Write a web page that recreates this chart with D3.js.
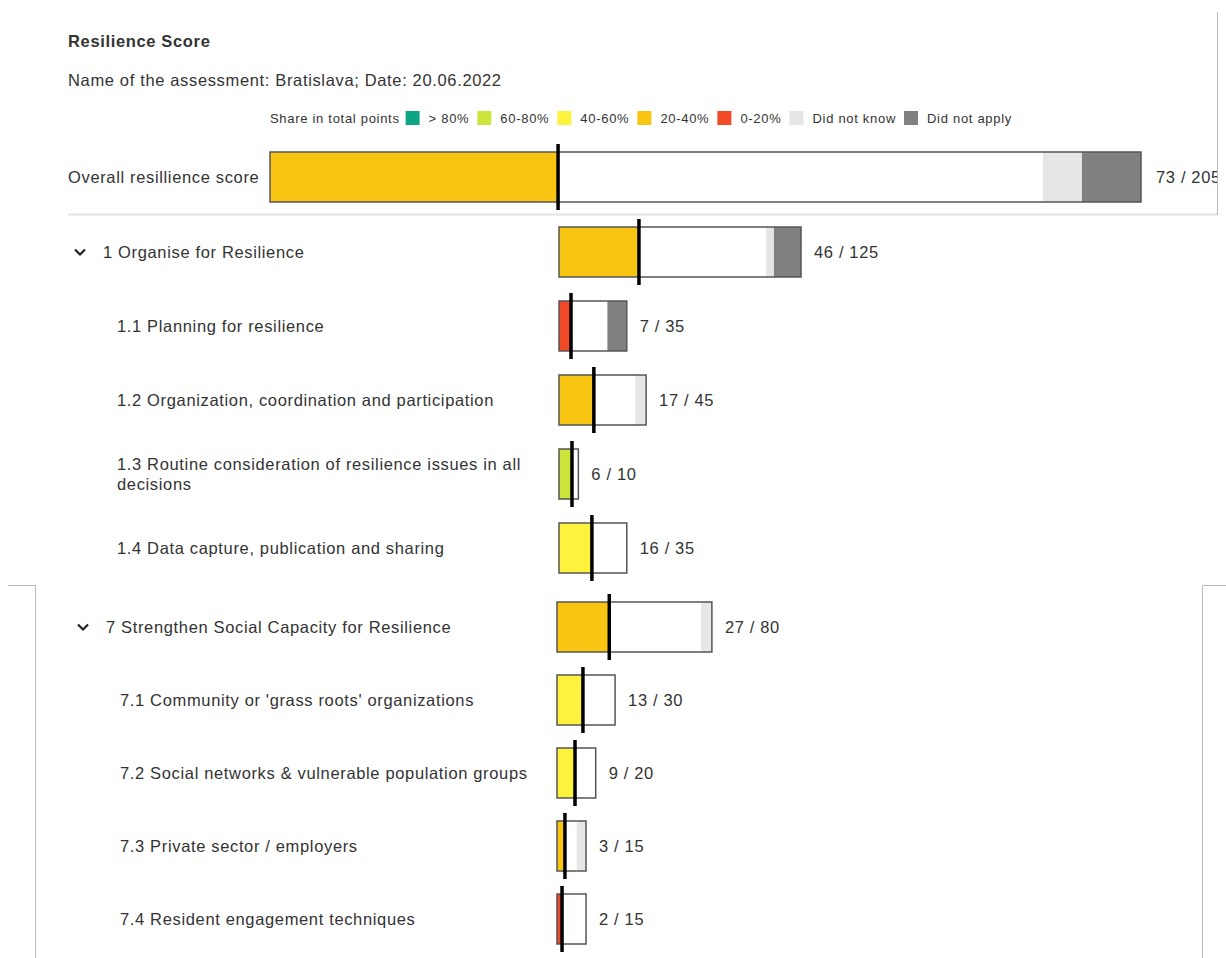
<!DOCTYPE html>
<html>
<head>
<meta charset="utf-8">
<script src="https://cdn.jsdelivr.net/npm/d3@7.9.0/dist/d3.min.js"></script>
<style>
  body { margin: 0; background: #fff; }
  svg text { font-family: "Liberation Sans", Arial, sans-serif; fill: #333; }
  .t16 { font-size: 16.5px; letter-spacing: 0.65px; }
  .leg { font-size: 13px; letter-spacing: 0.7px; }
</style>
</head>
<body>
<svg id="chart" width="1226" height="958"></svg>
<script>
// row data (overall row first, then the two sections with their sub-indicators)
const labels = [
  'Overall resillience score',
  '1 Organise for Resilience',
  '1.1 Planning for resilience',
  '1.2 Organization, coordination and participation',
  '1.3 Routine consideration of resilience issues in all|decisions',
  '1.4 Data capture, publication and sharing',
  '7 Strengthen Social Capacity for Resilience',
  "7.1 Community or 'grass roots' organizations",
  '7.2 Social networks & vulnerable population groups',
  '7.3 Private sector / employers',
  '7.4 Resident engagement techniques'
];
const levels      = [0, 1, 2, 2, 2, 2, 1, 2, 2, 2, 2];
const groups      = [0, 1, 1, 1, 1, 1, 2, 2, 2, 2, 2];
const points      = [73, 46, 7, 17, 6, 16, 27, 13, 9, 3, 2];
const maxPoints   = [205, 125, 35, 45, 10, 35, 80, 30, 20, 15, 15];
const filled      = [67.8, 41.3, 6.2, 18, 6.7, 17, 27, 13.4, 9.3, 4.1, 2.6];   // as drawn in the bars
const didNotKnow  = [9.2, 4.1, 0, 5.6, 0, 0, 5.6, 0, 0, 4.8, 0];
const didNotApply = [13.9, 14, 10, 0, 0, 0, 0, 0, 0, 0, 0];
const bands       = ['20-40%', '20-40%', '0-20%', '20-40%', '60-80%', '40-60%', '20-40%', '40-60%', '40-60%', '20-40%', '0-20%'];

// legend
const legendKeys   = ['> 80%', '60-80%', '40-60%', '20-40%', '0-20%', 'Did not know', 'Did not apply'];
const legendColors = ['#0ea584', '#cde43b', '#fdf23e', '#f8c512', '#f14a28', '#e6e6e6', '#808080'];
const color = d3.scaleOrdinal().domain(legendKeys).range(legendColors);

const svg = d3.select('#chart');

// header
svg.append('text').attr('x', 68).attr('y', 47).attr('class', 't16')
  .style('font-weight', 'bold')
  .text('Resilience Score');
svg.append('text').attr('x', 68).attr('y', 86).attr('class', 't16')
  .text('Name of the assessment: Bratislava; Date: 20.06.2022');

let legend = svg.append('g').attr('transform', 'translate(270,118)');
let first = legend.append('text').attr('y', 5).attr('class', 'leg').text('Share in total points');
let lx = first.node().getComputedTextLength() + 6;
legendKeys.forEach((k) => {
  legend.append('rect').attr('x', lx).attr('y', -7).attr('width', 14).attr('height', 14)
    .attr('fill', color(k));
  let t = legend.append('text').attr('x', lx + 23).attr('y', 5).attr('class', 'leg').text(k);
  lx += 23 + t.node().getComputedTextLength() + 8;
});

// frame lines from the original page
const frame = svg.append('g').attr('stroke', '#bbb').attr('fill', 'none');
frame.append('path').attr('d', 'M1217.5,12V215');
frame.append('path').attr('d', 'M8,585.5H35.5V958');
frame.append('path').attr('d', 'M1226,585.5H1202.5V958');
svg.append('line').attr('x1', 68).attr('x2', 1217).attr('y1', 214.5).attr('y2', 214.5)
  .attr('stroke', '#e2e2e2').attr('stroke-width', 2);

svg.append('clipPath').attr('id', 'clip').append('rect')
  .attr('x', 0).attr('y', 0).attr('width', 1217).attr('height', 958);

// scales
const xOverall = d3.scaleLinear().domain([0, 205]).range([0, 871]);
const xSection = d3.scaleLinear().domain([0, 125]).range([0, 242]);
const barOrigin = [270, 559, 557];
const textShift = [0, 0, 3];
const idx = d3.range(labels.length);
const yGroup = [
  d3.scalePoint().domain([0]).range([177, 177]),
  d3.scalePoint().domain(idx.filter(i => groups[i] === 1)).range([252, 548]),
  d3.scalePoint().domain(idx.filter(i => groups[i] === 2)).range([627, 919])
];
const barH = 50;

idx.forEach((i) => {
  const g = groups[i];
  const x = g === 0 ? xOverall : xSection;
  const x0 = barOrigin[g];
  const cy = yGroup[g](i);
  const row = svg.append('g').attr('clip-path', 'url(#clip)');

  // label
  const tx = levels[i] === 0 ? 68 : levels[i] === 1 ? 103 + textShift[g] : 117 + textShift[g];
  const lines = labels[i].split('|');
  lines.forEach((ln, k) => {
    row.append('text').attr('x', tx).attr('y', cy + 5.5 + (k - (lines.length - 1) / 2) * 20)
      .attr('class', 't16').text(ln);
  });
  if (levels[i] === 1) {
    const cx = 80 + textShift[g];
    row.append('path').attr('d', `M${cx - 5},${cy - 2.5}L${cx},${cy + 2.5}L${cx + 5},${cy - 2.5}`)
      .attr('fill', 'none').attr('stroke', '#222').attr('stroke-width', 2.2);
  }

  const top = cy - barH / 2;
  const w = x(maxPoints[i]);
  row.append('rect').attr('x', x0).attr('y', top).attr('width', w).attr('height', barH).attr('fill', '#fff');
  row.append('rect').attr('x', x0).attr('y', top).attr('width', x(filled[i])).attr('height', barH)
    .attr('fill', color(bands[i]));
  const apStart = maxPoints[i] - didNotApply[i];
  const dkStart = apStart - didNotKnow[i];
  if (didNotKnow[i] > 0) {
    row.append('rect').attr('x', x0 + x(dkStart)).attr('y', top).attr('width', x(didNotKnow[i])).attr('height', barH)
      .attr('fill', color('Did not know'));
  }
  if (didNotApply[i] > 0) {
    row.append('rect').attr('x', x0 + x(apStart)).attr('y', top).attr('width', x(didNotApply[i])).attr('height', barH)
      .attr('fill', color('Did not apply'));
  }
  row.append('rect').attr('x', x0).attr('y', top).attr('width', w).attr('height', barH)
    .attr('fill', 'none').attr('stroke', '#555').attr('stroke-width', 1.5);
  // score marker
  row.append('line').attr('x1', x0 + x(filled[i])).attr('x2', x0 + x(filled[i]))
    .attr('y1', top - 8).attr('y2', top + barH + 8)
    .attr('stroke', '#000').attr('stroke-width', 3.5);

  row.append('text').attr('x', x0 + w + (g === 0 ? 15 : 13)).attr('y', cy + 5.5)
    .attr('class', 't16').text(`${points[i]} / ${maxPoints[i]}`);
});
</script>
</body>
</html>
